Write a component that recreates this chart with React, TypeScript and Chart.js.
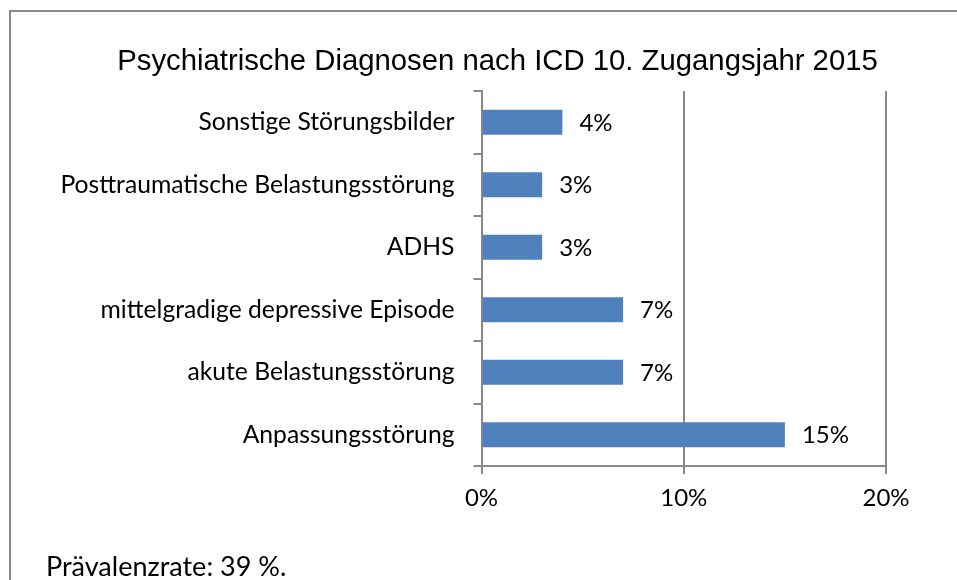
import React, { useEffect, useRef } from "react";
import { Chart, registerables } from "chart.js";

Chart.register(...registerables);

const TITLE = "Psychiatrische Diagnosen nach ICD 10. Zugangsjahr 2015";
const FOOTER = "Prävalenzrate: 39 %.";
const categories = [
  "Sonstige Störungsbilder",
  "Posttraumatische Belastungsstörung",
  "ADHS",
  "mittelgradige depressive Episode",
  "akute Belastungsstörung",
  "Anpassungsstörung",
];
const values = [4, 3, 3, 7, 7, 15];
const xTicks = [0, 10, 20];

const LABEL_FONT = "Lato, Carlito, Calibri, sans-serif";
const GREY = "#898989";

const framePlugin = {
  id: "frame",
  beforeDraw(chart: any) {
    const ctx = chart.ctx;
    ctx.save();
    ctx.fillStyle = "#ffffff";
    ctx.fillRect(0, 0, chart.width, chart.height);
    ctx.strokeStyle = GREY;
    ctx.lineWidth = 2;
    ctx.beginPath();
    ctx.moveTo(10, chart.height);
    ctx.lineTo(10, 11);
    ctx.lineTo(chart.width, 11);
    ctx.stroke();
    ctx.restore();
  },
  afterDraw(chart: any) {
    const ctx = chart.ctx;
    ctx.save();
    ctx.fillStyle = "#000000";
    // title
    ctx.font = `29.3px 'Liberation Sans', Arial, sans-serif`;
    ctx.textAlign = "center";
    ctx.textBaseline = "alphabetic";
    ctx.fillText(TITLE, 497.5, 70);
    // footer
    ctx.font = `27px ${LABEL_FONT}`;
    ctx.textAlign = "left";
    ctx.fillText(FOOTER, 46, 576);
    // value labels
    const meta = chart.getDatasetMeta(0);
    ctx.font = `24px ${LABEL_FONT}`;
    ctx.textBaseline = "middle";
    meta.data.forEach((bar: any, i: number) => {
      ctx.fillText(`${values[i]}%`, bar.x + 17, bar.y + 1);
    });
    ctx.restore();
  },
};

export default function App() {
  const ref = useRef<HTMLCanvasElement | null>(null);
  useEffect(() => {
    if (!ref.current) return;
    const chart = new Chart(ref.current, {
      type: "bar",
      data: {
        labels: categories,
        datasets: [
          {
            data: values,
            backgroundColor: "#4F81BD",
            borderWidth: 0,
            categoryPercentage: 1,
            barPercentage: 0.4,
          },
        ],
      },
      options: {
        indexAxis: "y",
        animation: false,
        responsive: false,
        layout: { padding: { left: 30, right: 71, top: 91, bottom: 66 } },
        plugins: {
          legend: { display: false },
          tooltip: { enabled: false },
          title: { display: false },
        },
        scales: {
          x: {
            min: 0,
            max: 20,
            afterBuildTicks(scale: any) {
              scale.ticks = xTicks.map((v) => ({ value: v }));
            },
            afterFit(scale: any) {
              scale.height = 48;
            },
            ticks: {
              color: "#000000",
              font: { family: LABEL_FONT, size: 24 },
              padding: 10,
              callback: (v: any) => `${v}%`,
            },
            grid: {
              color: GREY,
              lineWidth: 2,
              tickLength: 8,
              drawTicks: true,
            },
            border: { color: GREY, width: 2 },
          },
          y: {
            afterFit(scale: any) {
              scale.width = 451.5;
            },
            ticks: {
              color: "#000000",
              font: { family: LABEL_FONT, size: 24.7 },
              padding: 19,
            },
            grid: {
              offset: true,
              drawOnChartArea: false,
              color: GREY,
              lineWidth: 2,
              tickLength: 8,
            },
            border: { color: GREY, width: 2 },
          },
        },
      },
      plugins: [framePlugin],
    } as any);
    return () => chart.destroy();
  }, []);
  return (
    <div style={{ position: "absolute", left: 0, top: 0, width: 957, height: 580 }}>
      <canvas ref={ref} width={957} height={580} />
    </div>
  );
}
